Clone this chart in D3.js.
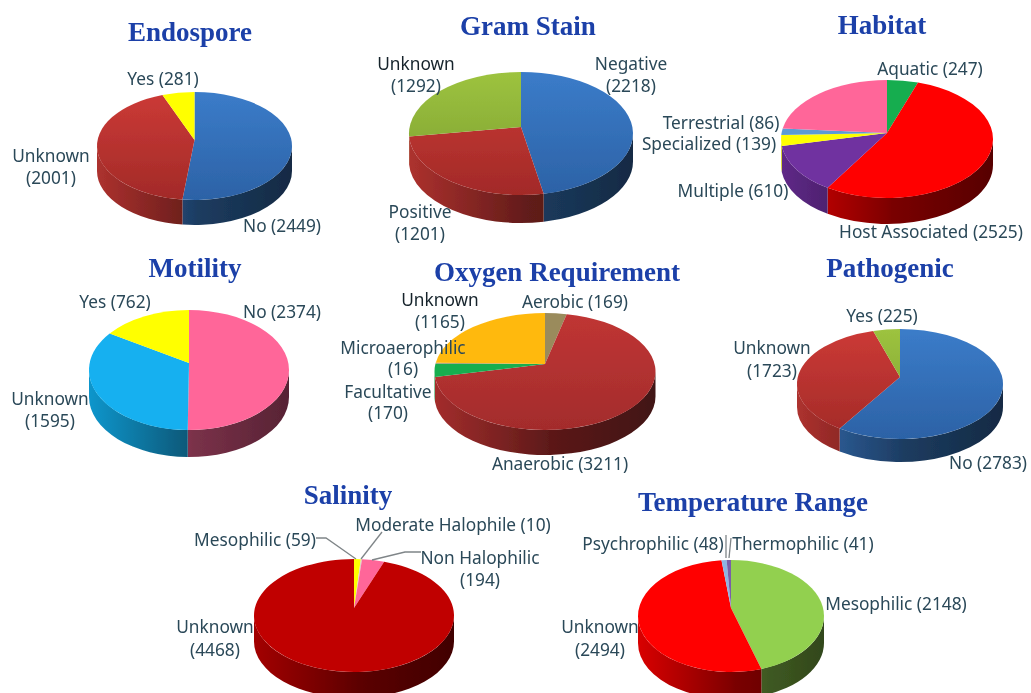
<!DOCTYPE html>
<html><head><meta charset="utf-8">
<style>html,body{margin:0;padding:0;background:#fff}svg{display:block}</style>
<script src="https://cdn.jsdelivr.net/npm/d3@7/dist/d3.min.js"></script>
</head><body>
<svg id="chart" width="1031" height="693"></svg>
<script>
// ---- data (clockwise from 12 o'clock) ----
const endosporeLabels = ["No", "Unknown", "Yes"];
const endosporeValues = [2449, 2001, 281];
const gramLabels = ["Negative", "Positive", "Unknown"];
const gramValues = [2218, 1201, 1292];
const habitatLabels = ["Aquatic", "Host Associated", "Multiple", "Specialized", "Terrestrial", "Unlabelled"];
const habitatValues = [247, 2525, 610, 139, 86, 1124];
const motilityLabels = ["No", "Unknown", "Yes"];
const motilityValues = [2374, 1595, 762];
const oxygenLabels = ["Aerobic", "Anaerobic", "Facultative", "Microaerophilic", "Unknown"];
const oxygenValues = [169, 3211, 170, 16, 1165];
const pathogenicLabels = ["No", "Unknown", "Yes"];
const pathogenicValues = [2783, 1723, 225];
const salinityLabels = ["Mesophilic", "Moderate Halophile", "Non Halophilic", "Unknown"];
const salinityValues = [59, 10, 194, 4468];
const temperatureLabels = ["Mesophilic", "Unknown", "Psychrophilic", "Thermophilic"];
const temperatureValues = [2148, 2494, 48, 41];

// ---- colours: [top of slice, bottom of slice] ----
const BLUE = ["#3b7cc9", "#2c62a6"], RED = ["#cc3a36", "#a22a28"], GREEN = ["#9dc33f", "#7a9c30"];
const flat = c => [c, c];
const charts = [
 {title:"Endospore", tx:190, ty:41, labels:endosporeLabels, values:endosporeValues,
  colors:[BLUE, RED, flat("#ffff00")], cx:194.5, cy:146, rx:97.5, ry:54, ay:140, depth:25,
  text:[["Yes (281)",163,85],["Unknown",51,162],["(2001)",51,184],["No (2449)",282,232]]},
 {title:"Gram Stain", tx:528, ty:35, labels:gramLabels, values:gramValues,
  colors:[BLUE, RED, GREEN], cx:521, cy:133.5, rx:112, ry:61.5, ay:127, depth:28,
  text:[["Unknown",416,70,1],["(1292)",416,92],["Negative",631,70],["(2218)",631,92],["Positive",420,218],["(1201)",420,240]]},
 {title:"Habitat", tx:882, ty:34, labels:habitatLabels, values:habitatValues,
  colors:[flat("#12ad50"), flat("#ff0000"), flat("#7030a0"), flat("#ffff00"), flat("#5b9bd5"), flat("#ff6699")],
  cx:887, cy:139, rx:106, ry:59, ay:133, depth:26,
  text:[["Aquatic (247)",930,75],["Terrestrial (86)",721,129],["Specialized (139)",709,150],["Multiple (610)",733,197],["Host Associated (2525)",931,238]]},
 {title:"Motility", tx:195, ty:277, labels:motilityLabels, values:motilityValues,
  colors:[flat("#ff6699"), flat("#12b0f0"), flat("#ffff00")], cx:189, cy:370, rx:100, ry:60, ay:363, depth:27,
  text:[["Yes (762)",115,308],["No (2374)",282,318],["Unknown",50,405],["(1595)",50,427]]},
 {title:"Oxygen Requirement", tx:557, ty:281, labels:oxygenLabels, values:oxygenValues,
  colors:[flat("#9a8b5c"), ["#c03534","#a32c2c"], flat("#18ae50"), flat("#a09a70"), flat("#ffb90f")],
  cx:545, cy:371.5, rx:110.5, ry:58.5, ay:364, depth:25,
  text:[["Unknown",440,306,1],["(1165)",440,328],["Aerobic (169)",575,308],["Microaerophilic",403,354],["(16)",403,375],["Facultative",388,398],["(170)",388,419],["Anaerobic (3211)",560,470]]},
 {title:"Pathogenic", tx:890, ty:277, labels:pathogenicLabels, values:pathogenicValues,
  colors:[BLUE, RED, GREEN], cx:900, cy:384, rx:103, ry:55, ay:377, depth:23,
  text:[["Yes (225)",882,322],["Unknown",772,354],["(1723)",772,377],["No (2783)",988,469]]},
 {title:"Salinity", tx:348, ty:504, labels:salinityLabels, values:salinityValues,
  colors:[flat("#ffff00"), flat("#d8d0c0"), flat("#ff6699"), flat("#c00000")], cx:354, cy:615.5, rx:100, ry:56.5, ay:608, depth:26,
  text:[["Mesophilic (59)",255,546],["Moderate Halophile (10)",453,531],["Non Halophilic",480,564],["(194)",480,586],["Unknown",215,633],["(4468)",215,656]],
  leaders:[[[316,538],[326,538],[356,559]],[[382,532],[361,559]],[[421,552],[405,552],[372,560]]]},
 {title:"Temperature Range", tx:753, ty:511, labels:temperatureLabels, values:temperatureValues,
  colors:[flat("#92d050"), flat("#ff0000"), flat("#8db4e2"), flat("#7a5ea8")], cx:731, cy:616, rx:93, ry:56, ay:608, depth:27,
  text:[["Psychrophilic (48)",653,550],["Thermophilic (41)",803,550],["Mesophilic (2148)",896,610],["Unknown",600,633],["(2494)",600,656]],
  leaders:[[[726,535],[726,558]],[[731,538],[729,558]]]}
];

const svg = d3.select("#chart");
const defs = svg.append("defs");
defs.append("filter").attr("id","soft").attr("x","-2%").attr("y","-2%").attr("width","104%").attr("height","104%")
  .append("feGaussianBlur").attr("stdDeviation",0.45);
const root = svg.append("g").attr("filter","url(#soft)");
const pie = d3.pie().sort(null).value(d => d);
const TAU = Math.PI * 2;
let uid = 0;

function shade(c, k){ const o = d3.rgb(c); return d3.rgb(o.r*k, o.g*k, o.b*k).formatHex(); }

// perspective: the disc's centre projects to the apex, above the ellipse's own centre
function warper(beta){
  return a => {
    if (a <= 1e-9) return 0;
    if (a >= TAU - 1e-9) return TAU;
    const u = Math.sin(a), v = -Math.cos(a), w = 1 + beta * v;
    const up = u * Math.sqrt(1 - beta * beta) / w, vp = (v + beta) / w;
    let r = Math.atan2(up, -vp);
    if (r < 0) r += TAU;
    return r;
  };
}

charts.forEach(c => {
  const g = root.append("g");
  const px = a => c.cx + c.rx * Math.sin(a);
  const py = a => c.cy - c.ry * Math.cos(a);
  const warp = warper(-(c.cy - c.ay) / c.ry);
  const arcs = pie(c.values).map(d => ({s: warp(d.startAngle), e: warp(d.endAngle)}));

  // walls: only the part of each slice's rim on the front half of the ellipse
  arcs.forEach((d, i) => {
    const a0 = Math.max(d.s, TAU/4), a1 = Math.min(d.e, 3*TAU/4);
    if (a1 <= a0) return;
    const id = "wall" + (uid++), base = c.colors[i][0];
    const gr = defs.append("linearGradient").attr("id", id).attr("gradientUnits","userSpaceOnUse")
      .attr("x1", c.cx - c.rx).attr("x2", c.cx + c.rx).attr("y1",0).attr("y2",0);
    [[0,.85],[.5,.5],[.52,.48],[1,.34]].forEach(([o,k]) => gr.append("stop").attr("offset",o).attr("stop-color",shade(base,k)));
    const p = `M${px(a0)},${py(a0)}A${c.rx},${c.ry} 0 0 1 ${px(a1)},${py(a1)}` +
              `L${px(a1)},${py(a1)+c.depth}A${c.rx},${c.ry} 0 0 0 ${px(a0)},${py(a0)+c.depth}Z`;
    g.append("path").attr("d", p).attr("fill", `url(#${id})`);
  });

  // top surface
  arcs.forEach((d, i) => {
    const id = "top" + (uid++), [c0, c1] = c.colors[i];
    const gr = defs.append("linearGradient").attr("id", id).attr("gradientUnits","userSpaceOnUse")
      .attr("x1",0).attr("x2",0).attr("y1", c.cy - c.ry).attr("y2", c.cy + c.ry);
    gr.append("stop").attr("offset",0).attr("stop-color",c0);
    gr.append("stop").attr("offset",1).attr("stop-color",c1);
    const large = d.e - d.s > Math.PI ? 1 : 0;
    const p = `M${c.cx},${c.ay}L${px(d.s)},${py(d.s)}` +
              `A${c.rx},${c.ry} 0 ${large} 1 ${px(d.e)},${py(d.e)}Z`;
    g.append("path").attr("d", p).attr("fill", `url(#${id})`);
  });

  (c.leaders || []).forEach(l => {
    g.append("path").attr("d", d3.line()(l)).attr("fill","none").attr("stroke","#7f8588").attr("stroke-width",1.3);
  });

  g.append("text").text(c.title).attr("x", c.tx).attr("y", c.ty).attr("text-anchor","middle")
    .attr("font-family","'Liberation Serif',serif").attr("font-weight","bold").attr("font-size",27).attr("fill","#1a3fa8");

  c.text.forEach(([t, x, y, dark]) => {
    g.append("text").text(t).attr("x", x).attr("y", y).attr("text-anchor","middle")
      .attr("font-family","'Noto Sans',sans-serif").attr("font-size",17.3)
      .attr("fill", dark ? "#16242c" : "#2a4858");
  });
});
</script>
</body></html>
